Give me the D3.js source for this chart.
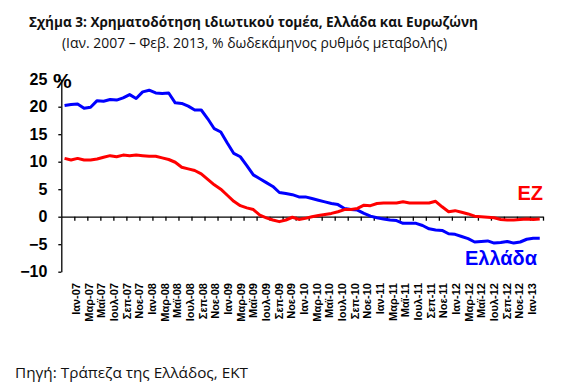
<!DOCTYPE html>
<html>
<head>
<meta charset="utf-8">
<script src="https://cdn.jsdelivr.net/npm/d3@7"></script>
<style>
  body { margin: 0; background: #fff; }
  svg { display: block; }
</style>
</head>
<body>
<div id="chart"></div>
<script>
// monthly data, Jan 2007 - Feb 2013 (74 months)
const greece = [
  20.2, 20.4, 20.5, 19.7, 19.9, 21.1, 21.0, 21.3, 21.2, 21.6, 22.2, 21.5,
  22.7, 23.0, 22.5, 22.4, 22.5, 20.7, 20.6, 20.1, 19.4, 19.4, 17.8, 16.0,
  15.4, 13.4, 11.5, 10.9, 9.3, 7.6, 6.9, 6.2, 5.5, 4.4, 4.2, 4.0,
  3.6, 3.6, 3.3, 3.0, 2.7, 2.4, 2.2, 1.5, 1.3, 1.2, 0.6, 0.1,
  -0.2, -0.4, -0.6, -0.7, -1.2, -1.2, -1.2, -1.6, -2.2, -2.4, -2.5, -3.1,
  -3.2, -3.6, -4.0, -4.6, -4.5, -4.4, -4.8, -4.7, -4.5, -4.8, -4.6, -4.1,
  -3.9, -3.9
];
const euroArea = [
  10.6, 10.3, 10.6, 10.3, 10.3, 10.5, 10.8, 11.1, 10.9, 11.2, 11.1, 11.2,
  11.1, 11.0, 11.0, 10.7, 10.4, 9.9, 9.0, 8.7, 8.4, 7.8, 6.8, 5.8,
  5.0, 3.9, 2.8, 2.0, 1.6, 1.3, 0.3, -0.2, -0.6, -0.9, -0.6, -0.1,
  -0.5, -0.3, 0.0, 0.2, 0.4, 0.6, 0.9, 1.3, 1.3, 1.5, 2.1, 2.0,
  2.4, 2.5, 2.5, 2.5, 2.7, 2.5, 2.5, 2.5, 2.5, 2.8, 1.8, 0.9,
  1.1, 0.8, 0.5, 0.1, 0.0, -0.1, -0.2, -0.5, -0.6, -0.6, -0.5, -0.4,
  -0.5, -0.4
];
const monthNames = ['Ιαν', 'Μαρ', 'Μαϊ', 'Ιουλ', 'Σεπ', 'Νοε'];
const years = ['07', '08', '09', '10', '11', '12', '13'];
const yTicks = [-10, -5, 0, 5, 10, 15, 20, 25];

const title = 'Σχήμα 3: Χρηματοδότηση ιδιωτικού τομέα, Ελλάδα και Ευρωζώνη';
const subtitle = '(Ιαν. 2007 – Φεβ. 2013, % δωδεκάμηνος ρυθμός μεταβολής)';
const source = 'Πηγή: Τράπεζα της Ελλάδος, ΕΚΤ';

// every other month gets a label
const xLabels = [];
years.forEach(yr => {
  monthNames.forEach(m => {
    if (xLabels.length < 37) xLabels.push(m + '-' + yr);
  });
});

const width = 586;
const height = 391;
const axisFont = '"Liberation Sans", Arial, sans-serif';
const textFont = '"Open Sans", "Noto Sans", sans-serif';

const svg = d3.select('#chart')
  .append('svg')
  .attr('width', width)
  .attr('height', height);

const xScale = d3.scaleLinear()
  .domain([0, greece.length])
  .range([61.3, 543]);

const yScale = d3.scaleLinear()
  .domain([-10, 25])
  .range([271.7, 79.2]);

const labelScale = d3.scalePoint()
  .domain(xLabels)
  .range([76, 532]);

// titles
svg.append('text')
  .attr('x', 29).attr('y', 27)
  .attr('textLength', 449).attr('lengthAdjust', 'spacingAndGlyphs')
  .style('font-family', textFont).style('font-weight', 'bold').style('font-size', '14.5px')
  .attr('fill', '#111')
  .text(title);

svg.append('text')
  .attr('x', 62).attr('y', 48)
  .attr('textLength', 385).attr('lengthAdjust', 'spacingAndGlyphs')
  .style('font-family', textFont).style('font-size', '14px')
  .attr('fill', '#111')
  .text(subtitle);

// y axis
const yAxis = d3.axisLeft(yScale)
  .tickValues(yTicks)
  .tickSize(3)
  .tickSizeOuter(0)
  .tickPadding(11);

svg.append('g')
  .attr('transform', `translate(${xScale(0)},0)`)
  .call(yAxis)
  .call(g => g.selectAll('text')
    .style('font-family', axisFont).style('font-weight', 'bold').style('font-size', '16px')
    .attr('fill', '#000'))
  .call(g => g.selectAll('line, path').attr('stroke', '#000').attr('stroke-width', 1.3));

// x axis on the zero line
const xAxis = d3.axisBottom(xScale)
  .tickValues(d3.range(2, greece.length + 1, 2))
  .tickSize(4)
  .tickSizeOuter(0)
  .tickFormat('');

svg.append('g')
  .attr('transform', `translate(0,${yScale(0)})`)
  .call(xAxis)
  .call(g => g.selectAll('line, path').attr('stroke', '#000').attr('stroke-width', 1.3));

svg.append('g')
  .selectAll('text')
  .data(xLabels)
  .join('text')
  .attr('transform', d => `translate(${labelScale(d)},283) rotate(-90)`)
  .attr('dy', '0.36em')
  .attr('text-anchor', 'end')
  .style('font-family', axisFont).style('font-weight', 'bold').style('font-size', '11px')
  .attr('fill', '#000')
  .text(d => d);

svg.append('text')
  .attr('x', 53).attr('y', 88)
  .style('font-family', axisFont).style('font-weight', 'bold').style('font-size', '21px')
  .attr('fill', '#000')
  .text('%');

// lines
const line = d3.line()
  .x((d, i) => xScale(i + 0.5))
  .y(d => yScale(d));

svg.append('path')
  .attr('d', line(greece))
  .attr('fill', 'none')
  .attr('stroke', '#0000ff')
  .attr('stroke-width', 3)
  .attr('stroke-linejoin', 'round');

svg.append('path')
  .attr('d', line(euroArea))
  .attr('fill', 'none')
  .attr('stroke', '#ff0000')
  .attr('stroke-width', 3)
  .attr('stroke-linejoin', 'round');

// series labels
svg.append('text')
  .attr('x', 543).attr('y', 200)
  .attr('text-anchor', 'end')
  .style('font-family', axisFont).style('font-weight', 'bold').style('font-size', '20px')
  .attr('fill', '#ff0000')
  .text('ΕΖ');

svg.append('text')
  .attr('x', 537).attr('y', 265)
  .attr('text-anchor', 'end')
  .style('font-family', axisFont).style('font-weight', 'bold').style('font-size', '20px')
  .attr('fill', '#0000ff')
  .text('Ελλάδα');

// source
svg.append('text')
  .attr('x', 15).attr('y', 378)
  .attr('textLength', 233).attr('lengthAdjust', 'spacingAndGlyphs')
  .style('font-family', textFont).style('font-size', '15px')
  .attr('fill', '#111')
  .text(source);
</script>
</body>
</html>
